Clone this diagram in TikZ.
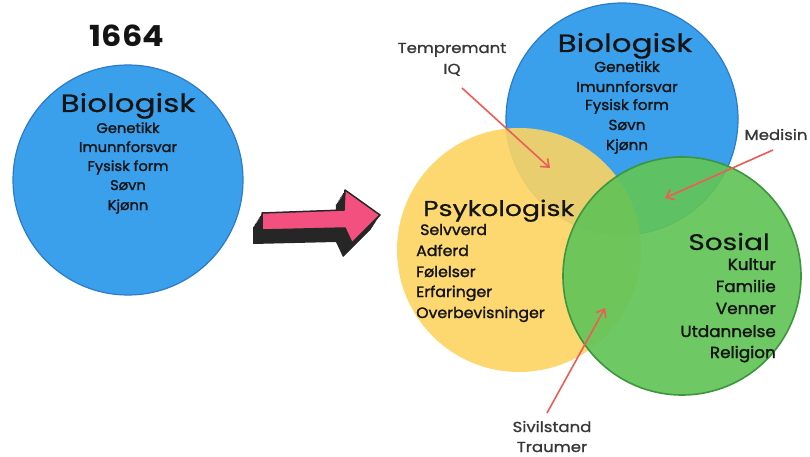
\documentclass[tikz,border=0pt]{standalone}
\usepackage{fontspec}
\setmainfont{Poppins}
\newfontfamily\headfont[FakeStretch=1.24,FakeBold=0.7]{Poppins}
\newfontfamily\itemfont[FakeStretch=1.05,FakeBold=1.6]{Poppins}
\newfontfamily\notefont[FakeStretch=1.14,FakeBold=1.1]{Poppins}
\newfontfamily\yearfont[FakeStretch=1.1]{Poppins}
\usetikzlibrary{arrows.meta}
\definecolor{cblue}{RGB}{58,160,236}
\definecolor{cblueedge}{RGB}{44,122,200}
\definecolor{cyellow}{RGB}{253,212,98}
\definecolor{cgreen}{RGB}{98,196,88}
\definecolor{cgreenedge}{RGB}{60,150,62}
\definecolor{cpink}{RGB}{243,80,128}
\definecolor{cred}{RGB}{238,92,86}
\definecolor{ctxt}{RGB}{20,20,20}
\tikzset{
  item/.style={anchor=base,font=\itemfont\fontsize{14}{16}\selectfont,text=ctxt,inner sep=0pt},
  itemL/.style={item,anchor=base west,font=\itemfont\fontsize{15}{16}\selectfont},
  itemR/.style={item,anchor=base east,font=\itemfont\fontsize{16}{17}\selectfont},
  head/.style={anchor=base,font=\headfont\fontsize{25}{27}\selectfont,text=ctxt,inner sep=0pt},
  note/.style={anchor=base,font=\notefont\fontsize{14.5}{16}\selectfont,text=ctxt!85,inner sep=0pt},
  pointer/.style={draw=cred,line width=1.6pt,-{Straight Barb[length=7pt,width=11pt,line width=1.6pt]}},
}
\begin{document}
\begin{tikzpicture}[x=1pt,y=-1pt]
\useasboundingbox (0,0) rectangle (810,457);
% left circle
\node[draw=cblueedge,fill=cblue,line width=1.2pt,circle,minimum size=230pt,inner sep=0pt] (lc) at (128,180) {};
\node[anchor=base,font=\yearfont\bfseries\fontsize{29}{30}\selectfont,inner sep=0pt,text=ctxt] (year) at (127,47) {1664};
\node[head] (lh) at (128,112) {Biologisk};
\node[item] (l1) at (128,133) {Genetikk};
\node[item] (l2) at (128,152) {Imunnforsvar};
\node[item] (l3) at (128,171) {Fysisk form};
\node[item] (l4) at (128,190) {Søvn};
\node[item] (l5) at (128,210) {Kjønn};
% pink 3D arrow
\foreach \k in {0,0.1,...,1.01}{
  \fill[black!85,shift={(-9*\k,14*\k)}] (262,213) -- (344,210) -- (345,190) -- (380,215) -- (352,243) -- (345,228) -- (262,230) -- cycle;
}
\draw[fill=cpink,draw=black!85,line width=1.5pt,line join=round] (262,213) -- (344,210) -- (345,190) -- (380,215) -- (352,243) -- (345,228) -- (262,230) -- cycle;
% Venn
\node[draw=cblueedge,fill=cblue,line width=1.2pt,circle,minimum size=232pt,inner sep=0pt] (bc) at (622,119) {};
\node[fill=cyellow,fill opacity=0.9,circle,minimum size=244pt,inner sep=0pt] (yc) at (519,250) {};
\node[draw=cgreenedge,fill=cgreen,fill opacity=0.92,draw opacity=1,line width=1.6pt,circle,minimum size=238pt,inner sep=0pt] (gc) at (682,276) {};
% blue texts
\node[head] (bh) at (625,52) {Biologisk};
\node[item,font=\itemfont\fontsize{14.5}{16}\selectfont] (b1) at (627,72) {Genetikk};
\node[item,font=\itemfont\fontsize{14.5}{16}\selectfont] (b2) at (627,92) {Imunnforsvar};
\node[item,font=\itemfont\fontsize{14.5}{16}\selectfont] (b3) at (627,110) {Fysisk form};
\node[item,font=\itemfont\fontsize{14.5}{16}\selectfont] (b4) at (627,130) {Søvn};
\node[item,font=\itemfont\fontsize{14.5}{16}\selectfont] (b5) at (627,150) {Kjønn};
% yellow texts
\node[head,anchor=base west,font=\headfont\fontsize{21.5}{24}\selectfont] (yh) at (423,216) {Psykologisk};
\node[itemL] (y1) at (420,235) {Selvverd};
\node[itemL] (y2) at (416,256) {Adferd};
\node[itemL] (y3) at (416,277) {Følelser};
\node[itemL] (y4) at (416,297) {Erfaringer};
\node[itemL] (y5) at (416,318) {Overbevisninger};
% green texts
\node[head,anchor=base east,font=\headfont\fontsize{22.5}{25}\selectfont] (gh) at (770,250) {Sosial};
\node[itemR] (g1) at (776,270) {Kultur};
\node[itemR] (g2) at (776,292) {Familie};
\node[itemR] (g3) at (776,314) {Venner};
\node[itemR] (g4) at (776,337) {Utdannelse};
\node[itemR] (g5) at (776,358) {Religion};
% notes
\node[note] (t1) at (452,53) {Tempremant};
\node[note] (t2) at (452,74) {IQ};
\node[note] (m1) at (776,140) {Medisin};
\node[note] (s1) at (552,432) {Sivilstand};
\node[note] (s2) at (552,452) {Traumer};
\coordinate (ts) at (462,88);
\coordinate (ta) at (550,168);
\coordinate (ms) at (773,150);
\coordinate (ma) at (665,198);
\coordinate (ss) at (547,413);
\coordinate (sa) at (605,308);
\draw[pointer] (ts) -- (ta);
\draw[pointer] (ms) -- (ma);
\draw[pointer] (ss) -- (sa);
\end{tikzpicture}
\end{document}
